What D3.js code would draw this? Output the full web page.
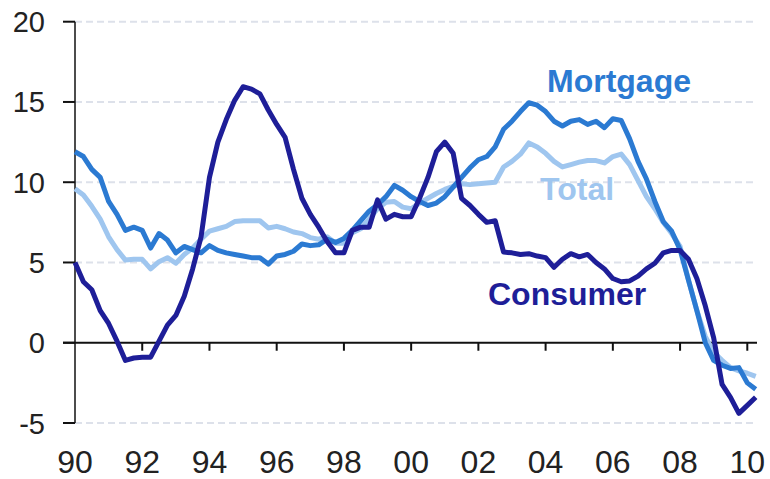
<!DOCTYPE html>
<html>
<head>
<meta charset="utf-8">
<script src="https://cdn.jsdelivr.net/npm/d3@7"></script>
<style>
  body { margin: 0; background: #fff; }
  text { font-family: "Liberation Sans", Arial, sans-serif; }
</style>
</head>
<body>
<div id="chart"></div>
<script>
// Quarterly growth, % y/y, 1990Q1 - 2010Q2
var startYear = 1990;
var yTicks = [-5, 0, 5, 10, 15, 20];
var xTickYears = [1990, 1992, 1994, 1996, 1998, 2000, 2002, 2004, 2006, 2008, 2010];
var xTickLabels = ["90", "92", "94", "96", "98", "00", "02", "04", "06", "08", "10"];

var mortgage = [11.9, 11.6, 10.8, 10.3, 8.8, 8.0, 7.0, 7.2, 7.0, 5.9,
  6.8, 6.4, 5.6, 6.0, 5.8, 5.6, 6.05, 5.75, 5.6, 5.5,
  5.4, 5.3, 5.3, 4.9, 5.4, 5.5, 5.7, 6.15, 6.05, 6.1,
  6.45, 6.25, 6.5, 7.0, 7.6, 8.2, 8.6, 9.1, 9.8, 9.5,
  9.1, 8.8, 8.55, 8.7, 9.1, 9.7, 10.3, 10.9, 11.4, 11.6,
  12.2, 13.3, 13.8, 14.4, 14.95, 14.8, 14.4, 13.8, 13.5, 13.8,
  13.9, 13.6, 13.8, 13.4, 13.95, 13.85, 12.7, 11.3, 10.2, 8.8,
  7.55, 6.95, 5.8, 3.9, 2.0, 0.0, -1.1, -1.4, -1.6, -1.55,
  -2.5, -2.9];

var total = [9.6, 9.2, 8.5, 7.7, 6.6, 5.8, 5.15, 5.2, 5.2, 4.6,
  5.05, 5.3, 4.95, 5.5, 5.9, 6.45, 6.95, 7.1, 7.25, 7.55,
  7.6, 7.6, 7.6, 7.15, 7.25, 7.1, 6.9, 6.8, 6.55, 6.45,
  6.6, 6.2, 6.2, 6.85, 7.1, 7.7, 8.35, 8.75, 8.8, 8.45,
  8.35, 8.7, 9.0, 9.3, 9.55, 9.75, 9.9, 9.85, 9.9, 9.95,
  10.0, 10.95, 11.3, 11.75, 12.45, 12.2, 11.8, 11.3, 10.95, 11.1,
  11.25, 11.35, 11.35, 11.2, 11.6, 11.75, 11.1, 10.1, 9.1, 8.35,
  7.5, 6.8, 6.0, 3.9, 2.0, 0.4, -0.6, -1.1, -1.55, -1.75,
  -1.9, -2.1];

var consumer = [5.0, 3.8, 3.3, 2.0, 1.2, 0.1, -1.1, -0.95, -0.9, -0.9,
  0.1, 1.1, 1.7, 2.9, 4.6, 6.6, 10.3, 12.5, 13.9, 15.1,
  15.95, 15.8, 15.5, 14.5, 13.6, 12.8, 10.8, 9.0, 8.0, 7.2,
  6.3, 5.6, 5.6, 7.0, 7.2, 7.2, 8.9, 7.7, 8.0, 7.85,
  7.85, 9.0, 10.3, 11.9, 12.5, 11.8, 9.0, 8.55, 8.0, 7.5,
  7.6, 5.65, 5.6, 5.5, 5.55, 5.4, 5.3, 4.7, 5.2, 5.55,
  5.35, 5.5, 5.0, 4.6, 4.0, 3.8, 3.85, 4.15, 4.6, 4.95,
  5.6, 5.75, 5.75, 5.2, 4.0, 2.3, 0.3, -2.6, -3.4, -4.4,
  -3.9, -3.4];

var seriesNames = ["Total", "Mortgage", "Consumer"];
var seriesColors = ["#9fc6ef", "#2b7ad2", "#1e1e98"];
var seriesValues = [total, mortgage, consumer];

var width = 770, height = 479;

var x = d3.scaleLinear().domain([1990, 2010]).range([75, 747.3]);
var y = d3.scaleLinear().domain([-5, 20]).range([423, 21.7]);

var svg = d3.select("#chart").append("svg")
  .attr("width", width)
  .attr("height", height);

// dashed gridlines
svg.selectAll(".grid")
  .data(yTicks.filter(function(d) { return d != 0; }))
  .enter()
  .append("line")
    .attr("class", "grid")
    .attr("x1", x(1990)).attr("x2", 757)
    .attr("y1", function(d) { return y(d); })
    .attr("y2", function(d) { return y(d); })
    .style("stroke", "#dde1ea")
    .style("stroke-width", 2)
    .style("stroke-dasharray", "7,4");

// y axis
svg.append("line")
  .attr("x1", x(1990)).attr("x2", x(1990))
  .attr("y1", y(20)).attr("y2", y(-5))
  .style("stroke", "#111")
  .style("stroke-width", 1.5);

svg.selectAll(".ytick")
  .data(yTicks)
  .enter()
  .append("line")
    .attr("class", "ytick")
    .attr("x1", 63).attr("x2", x(1990))
    .attr("y1", function(d) { return y(d); })
    .attr("y2", function(d) { return y(d); })
    .style("stroke", "#111")
    .style("stroke-width", 2);

svg.selectAll(".ylabel")
  .data(yTicks)
  .enter()
  .append("text")
    .attr("class", "ylabel")
    .attr("x", 45)
    .attr("y", function(d) { return y(d) + 10.5; })
    .style("font-size", "29px")
    .style("fill", "#222")
    .style("text-anchor", "end")
    .text(function(d) { return d; });

// zero line with ticks hanging below
svg.append("line")
  .attr("x1", 63).attr("x2", 757)
  .attr("y1", y(0)).attr("y2", y(0))
  .style("stroke", "#111")
  .style("stroke-width", 2.2);

svg.selectAll(".xtick")
  .data(xTickYears.slice(1))
  .enter()
  .append("line")
    .attr("class", "xtick")
    .attr("x1", function(d) { return x(d); })
    .attr("x2", function(d) { return x(d); })
    .attr("y1", y(0)).attr("y2", y(0) + 8)
    .style("stroke", "#111")
    .style("stroke-width", 2);

svg.selectAll(".xlabel")
  .data(xTickYears)
  .enter()
  .append("text")
    .attr("class", "xlabel")
    .attr("x", function(d) { return x(d); })
    .attr("y", 473)
    .style("font-size", "32px")
    .style("fill", "#222")
    .style("text-anchor", "middle")
    .text(function(d, i) { return xTickLabels[i]; });

// series lines
var line = d3.line()
  .x(function(d, i) { return x(startYear + i / 4); })
  .y(function(d) { return y(d); });

svg.selectAll(".series")
  .data(seriesValues)
  .enter()
  .append("path")
    .attr("class", "series")
    .attr("d", function(d) { return line(d); })
    .style("fill", "none")
    .style("stroke", function(d, i) { return seriesColors[i]; })
    .style("stroke-width", 5)
    .style("stroke-linejoin", "round")
    .style("stroke-linecap", "butt");

// direct labels
var labelPos = [[540, 200], [547, 92], [488, 305]];
svg.selectAll(".label")
  .data(seriesNames)
  .enter()
  .append("text")
    .attr("class", "label")
    .attr("x", function(d, i) { return labelPos[i][0]; })
    .attr("y", function(d, i) { return labelPos[i][1]; })
    .style("font-size", "32px")
    .style("font-weight", 700)
    .style("fill", function(d, i) { return seriesColors[i]; })
    .text(function(d) { return d; });
</script>
</body>
</html>
